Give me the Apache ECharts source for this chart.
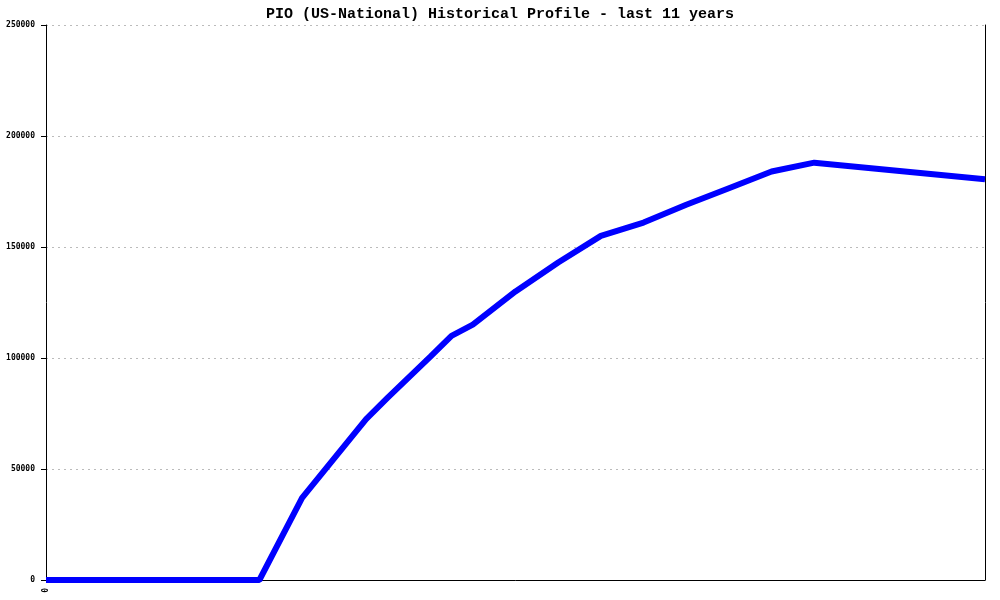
<!DOCTYPE html>
<html>
<head>
<meta charset="utf-8">
<script src="https://cdn.jsdelivr.net/npm/echarts@6/dist/echarts.min.js"></script>
<style>html,body{margin:0;padding:0;background:#fff}#c{width:1000px;height:600px}</style>
</head>
<body>
<div id="c"></div>
<script>
var titleText = "PIO (US-National) Historical Profile - last 11 years";
var years = [0, 2.5, 3, 3.75, 4, 4.5, 4.75, 5, 5.5, 6, 6.5, 7, 7.5, 8, 8.5, 9, 11];
var values = [0, 0, 37000, 72500, 82000, 100500, 110000, 115000, 130000, 143000, 155000, 161000, 169000, 176500, 184000, 188000, 180500];
var yTicks = [0, 50000, 100000, 150000, 200000, 250000];

var data = years.map(function (t, i) { return [t, values[i]]; });
var chart = echarts.init(document.getElementById('c'));
chart.setOption({
  animation: false,
  backgroundColor: '#ffffff',
  title: {
    text: titleText, left: 'center', top: 2,
    textStyle: { fontFamily: 'Liberation Mono', fontWeight: 'bold', fontSize: 15, color: '#000' }
  },
  grid: { left: 46, right: 15, top: 25, bottom: 20 },
  xAxis: {
    type: 'value', min: 0, max: 11, interval: 11,
    axisLine: { show: true, onZero: false, lineStyle: { color: '#000', width: 1 } },
    axisTick: { show: false },
    splitLine: { show: false },
    axisLabel: {
      rotate: 90, margin: 8,
      fontFamily: 'DejaVu Sans Mono', fontSize: 8, fontWeight: 'bold', color: '#000',
      formatter: function (v) { return v === 0 ? '0' : ''; }
    }
  },
  yAxis: [{
    type: 'value', min: yTicks[0], max: yTicks[yTicks.length - 1], interval: 50000,
    axisLine: { show: true, lineStyle: { color: '#000', width: 1 } },
    axisTick: { show: true, length: 5, lineStyle: { color: '#000' } },
    axisLabel: {
      margin: 11, fontFamily: 'DejaVu Sans Mono', fontSize: 8, fontWeight: 'bold', color: '#000',
      formatter: function (v) { return String(v); }
    },
    splitLine: { show: true, lineStyle: { color: '#bbbbbb', type: [2, 4], width: 1 } }
  }, {
    type: 'value', position: 'right', min: 0, max: 250000, interval: 50000,
    axisLine: { show: true, lineStyle: { color: '#000', width: 1 } },
    axisTick: { show: false }, axisLabel: { show: false }, splitLine: { show: false }
  }],
  series: [{
    type: 'line', data: data, yAxisIndex: 0,
    showSymbol: false, symbol: 'none',
    lineStyle: { color: '#0000ff', width: 6 },
    z: 5
  }]
});
</script>
</body>
</html>
